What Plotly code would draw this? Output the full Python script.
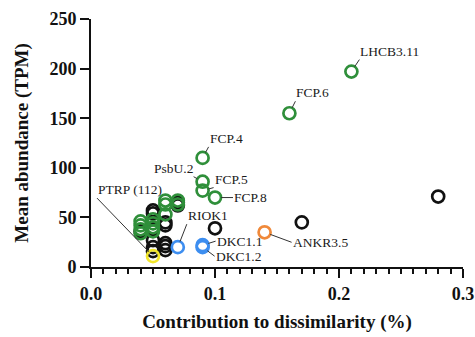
import plotly.graph_objects as go

# ---- data ----
black_x = [0.28, 0.17, 0.10, 0.04, 0.05, 0.05, 0.05, 0.05, 0.05, 0.05, 0.06, 0.06, 0.06, 0.06, 0.06, 0.07, 0.07]
black_y = [71, 45, 39, 36, 57, 54, 38, 27, 20, 16, 45, 42, 24, 21, 17, 65, 62]

green_x = [0.21, 0.16, 0.09, 0.09, 0.09, 0.10, 0.04, 0.04, 0.04, 0.04, 0.05, 0.05, 0.05, 0.05, 0.06, 0.06, 0.06, 0.07, 0.07]
green_y = [197, 155, 110, 86, 77, 70, 46, 42, 38, 34, 48, 44, 40, 36, 67, 63, 53, 67, 63]

blue_x = [0.07, 0.09, 0.09]
blue_y = [20, 22, 20]

orange_x = [0.14]
orange_y = [35]

yellow_x = [0.05]
yellow_y = [11]

# labels: (text, x, y, ax, ay, xanchor, yanchor)
labels = [
    ("LHCB3.11", 0.21, 197, 8, -12, "left", "bottom"),
    ("FCP.6", 0.16, 155, 6, -12, "left", "bottom"),
    ("FCP.4", 0.09, 110, 6, -11, "left", "bottom"),
    ("PsbU.2", 0.09, 86, -9, -5, "right", "bottom"),
    ("FCP.5", 0.09, 77, 11, -3, "left", "bottom"),
    ("FCP.8", 0.10, 70, 18, 0, "left", "middle"),
    ("PTRP (112)", 0.05, 11, -56, -58, "left", "bottom"),
    ("RIOK1", 0.07, 20, 9, -23, "left", "bottom"),
    ("DKC1.1", 0.09, 22, 13, -4, "left", "middle"),
    ("DKC1.2", 0.09, 20, 12, 9, "left", "middle"),
    ("ANKR3.5", 0.14, 35, 27, 10, "left", "middle"),
]

x_ticks = [0.0, 0.1, 0.2, 0.3]
y_ticks = [0, 50, 100, 150, 200, 250]

SERIF = "Liberation Serif, Times New Roman, serif"

fig = go.Figure()

def add(xs, ys, color):
    fig.add_trace(go.Scatter(
        x=xs, y=ys, mode="markers", showlegend=False, cliponaxis=False,
        marker=dict(symbol="circle-open", size=12, color=color,
                    line=dict(width=2.7, color=color)),
    ))

add(black_x, black_y, "#111111")
add(green_x, green_y, "#2f8f3a")
add(blue_x, blue_y, "#3d8ef0")
add(orange_x, orange_y, "#f0893a")
add(yellow_x, yellow_y, "#f2e62a")

for text, x, y, ax, ay, xa, ya in labels:
    fig.add_annotation(
        x=x, y=y, text=text, showarrow=True, arrowhead=0, arrowwidth=1,
        arrowcolor="#333333", ax=ax, ay=ay, standoff=6,
        xanchor=xa, yanchor=ya, borderpad=0,
        font=dict(family=SERIF, size=13.5, color="#1a1a1a"),
    )

fig.update_layout(
    width=475, height=337,
    margin=dict(l=91, r=12, t=19, b=70),
    paper_bgcolor="white", plot_bgcolor="white",
    font=dict(family=SERIF, color="#111111"),
    xaxis=dict(
        range=[0, 0.3], tickvals=x_ticks, ticktext=["0.0", "0.1", "0.2", "0.3"],
        automargin=False,
        showgrid=False, zeroline=False, showline=True, linecolor="#111111", linewidth=2,
        ticks="outside", ticklen=9, tickwidth=2, tickcolor="#111111",
        minor=dict(dtick=0.01, ticks="outside", ticklen=5, tickwidth=1.5, tickcolor="#111111"),
        tickfont=dict(family=SERIF, size=18, color="#111111", weight="bold"),
        title=dict(text="<b>Contribution to dissimilarity (%)</b>", standoff=12,
                   font=dict(family=SERIF, size=19, color="#111111")),
    ),
    yaxis=dict(
        range=[0, 250], tickvals=y_ticks, automargin=False,
        showgrid=False, zeroline=False, showline=True, linecolor="#111111", linewidth=2,
        ticks="outside", ticklen=9, tickwidth=2, tickcolor="#111111",
        tickfont=dict(family=SERIF, size=18, color="#111111", weight="bold"),
        title=dict(text="<b>Mean abundance (TPM)</b>", standoff=16,
                   font=dict(family=SERIF, size=19, color="#111111")),
    ),
)

fig.write_html("out.html")
